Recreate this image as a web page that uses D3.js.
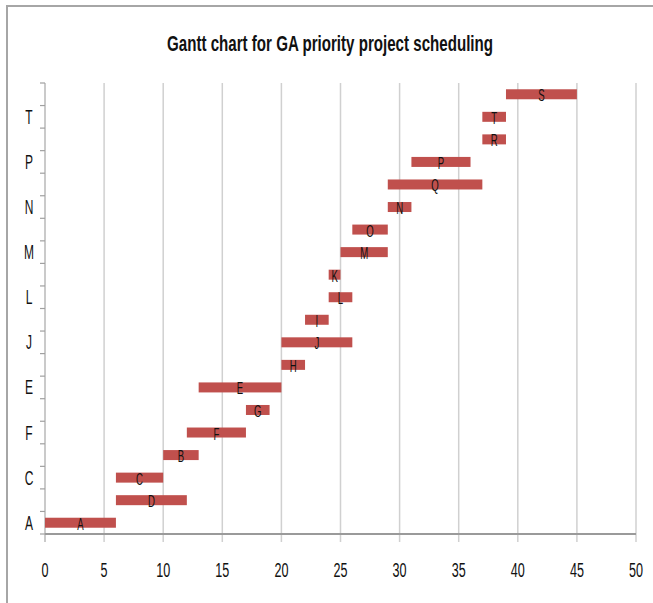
<!DOCTYPE html>
<html>
<head>
<meta charset="utf-8">
<script src="https://cdn.jsdelivr.net/npm/d3@7"></script>
<style>
  html, body { margin: 0; padding: 0; background: #fff; }
  svg { display: block; }
  text { font-family: "Liberation Sans", Arial, sans-serif; }
</style>
</head>
<body>
<svg id="chart" width="653" height="603"></svg>
<script>
// ---- data (bottom to top, as drawn) ----
const tasks  = ["A","D","C","B","F","G","E","H","J","I","L","K","M","O","N","Q","P","R","T","S"];
const starts = [0, 6, 6, 10, 12, 17, 13, 20, 20, 22, 24, 24, 25, 26, 29, 29, 31, 37, 37, 39];
const ends   = [6, 12, 10, 13, 17, 19, 20, 22, 26, 24, 26, 25, 29, 29, 31, 37, 36, 39, 39, 45];
const yTickLabels = ["A","C","F","E","J","L","M","N","P","T"];
const xTicks = [0, 5, 10, 15, 20, 25, 30, 35, 40, 45, 50];
const title = "Gantt chart for GA priority project scheduling";

const svg = d3.select("#chart");
const pLeft = 45, pRight = 636, pTop = 83, pBottom = 534;
const SQ = 0.6; // horizontal squeeze of text

// chart frame (only top/left visible)
svg.append("rect").attr("x", 7).attr("y", 6).attr("width", 700).attr("height", 700)
  .attr("fill", "#fff").attr("stroke", "#a6a6a6").attr("stroke-width", 2);

const x = d3.scaleLinear().domain([0, 50]).range([pLeft, pRight]);
const y = d3.scaleBand().domain(tasks.slice().reverse()).range([pTop, pBottom]).paddingInner(0).paddingOuter(0);

// vertical gridlines (extend below axis as ticks)
svg.append("g").selectAll("line").data(xTicks).join("line")
  .attr("x1", d => x(d)).attr("x2", d => x(d))
  .attr("y1", pTop).attr("y2", pBottom + 8)
  .attr("stroke", d => d === 0 ? "#b8b8b8" : "#d0d0d0").attr("stroke-width", 1.5);

// y axis boundary ticks
const bounds = tasks.map(t => y(t)).concat([pBottom]);
svg.append("g").selectAll("line").data(bounds).join("line")
  .attr("x1", pLeft - 5).attr("x2", pLeft).attr("y1", d => d).attr("y2", d => d)
  .attr("stroke", "#a0a0a0").attr("stroke-width", 1.2);

// x axis line
svg.append("line").attr("x1", pLeft).attr("x2", pRight).attr("y1", pBottom).attr("y2", pBottom)
  .attr("stroke", "#9a9a9a").attr("stroke-width", 2);

// bars
svg.append("g").selectAll("rect").data(tasks).join("rect")
  .attr("x", (d, i) => x(starts[i]))
  .attr("width", (d, i) => x(ends[i]) - x(starts[i]))
  .attr("y", d => y(d) + y.bandwidth() / 2 - 5)
  .attr("height", 10)
  .attr("fill", "#c0504d");

// bar labels
svg.append("g").selectAll("text").data(tasks).join("text")
  .attr("transform", (d, i) => `translate(${x((starts[i] + ends[i]) / 2)},${y(d) + y.bandwidth() / 2 + 7}) scale(${SQ},1)`)
  .attr("text-anchor", "middle")
  .attr("font-size", 16)
  .attr("fill", "#111")
  .text(d => d);

// y tick labels
svg.append("g").selectAll("text").data(yTickLabels).join("text")
  .attr("transform", d => `translate(29,${y(d) + y.bandwidth() / 2 + 7}) scale(${SQ},1)`)
  .attr("text-anchor", "middle")
  .attr("font-size", 20)
  .attr("fill", "#111")
  .text(d => d);

// x tick labels
svg.append("g").selectAll("text").data(xTicks).join("text")
  .attr("transform", d => `translate(${x(d)},577) scale(${SQ},1)`)
  .attr("text-anchor", "middle")
  .attr("font-size", 21)
  .attr("fill", "#111")
  .text(d => d);

// title
svg.append("text")
  .attr("x", 330).attr("y", 51)
  .attr("text-anchor", "middle")
  .attr("font-size", 22).attr("font-weight", "bold")
  .attr("textLength", 326).attr("lengthAdjust", "spacingAndGlyphs")
  .attr("fill", "#111")
  .text(title);
</script>
</body>
</html>
